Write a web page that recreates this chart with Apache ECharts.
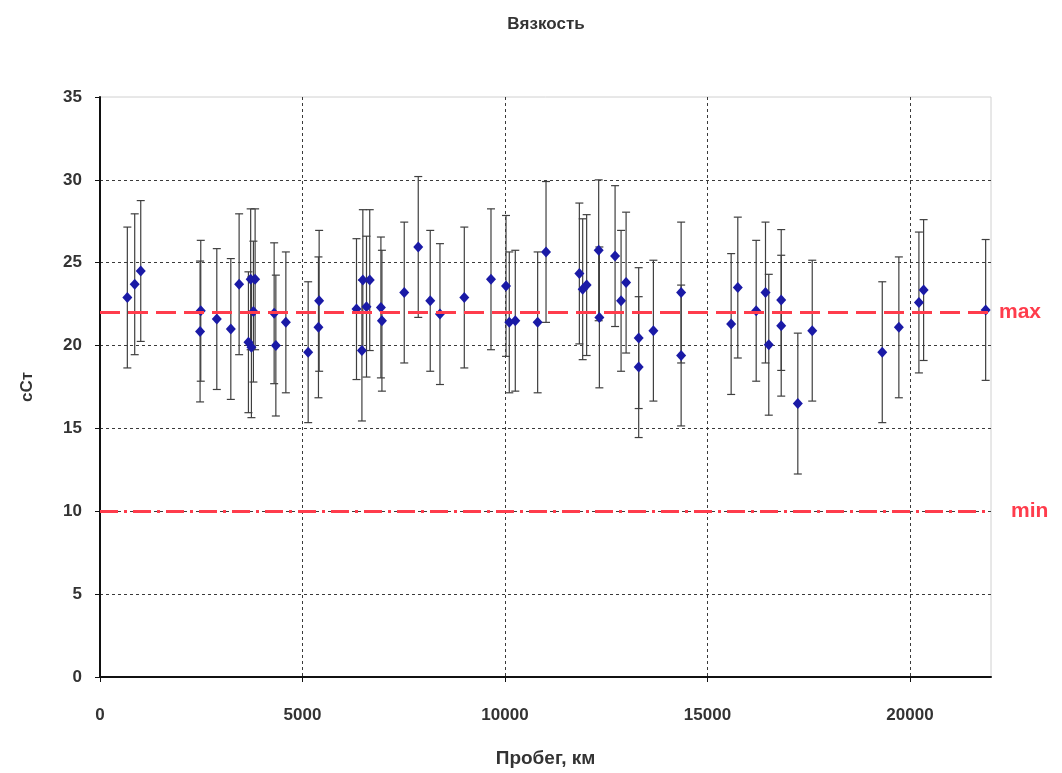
<!DOCTYPE html>
<html>
<head>
<meta charset="utf-8">
<script src="https://cdn.jsdelivr.net/npm/echarts@6/dist/echarts.min.js"></script>
<style>
html,body{margin:0;padding:0;background:#fff;}
#chart{width:1062px;height:773px;}
</style>
</head>
<body>
<div id="chart"></div>
<script>
// Пробег, км
var km = [675, 857, 1006, 2471, 2488, 2884, 3230, 3435, 3665, 3739, 3720, 3830, 3788, 4300, 4342, 4589,
  5140, 5411, 5394, 6333, 6467, 6490, 6660, 6580, 6936, 6961, 7512, 7858, 8154, 8394, 8995, 9654,
  10025, 10106, 10254, 10806, 11013, 11836, 11918, 12016, 12313, 12330, 12718, 12866, 12990, 13301,
  13301, 13664, 14349, 14349, 15584, 15748, 16202, 16432, 16513, 16820, 16820, 17230, 17586, 19315,
  19725, 20220, 20336, 21868];
// Вязкость, сСт
var visc = [22.9, 23.7, 24.5, 20.85, 22.1, 21.6, 21.0, 23.7, 20.2, 19.9, 24.0, 24.0, 22.05, 21.95, 20.0, 21.4,
  19.6, 22.7, 21.1, 22.2, 19.7, 23.95, 23.95, 22.35, 22.3, 21.5, 23.2, 25.95, 22.7, 21.9, 22.9, 24.0,
  23.6, 21.4, 21.5, 21.4, 25.65, 24.35, 23.4, 23.65, 25.75, 21.7, 25.4, 22.7, 23.8, 20.45,
  18.7, 20.9, 23.2, 19.4, 21.3, 23.5, 22.1, 23.2, 20.05, 22.75, 21.2, 16.5, 20.9, 19.6,
  21.1, 22.6, 23.35, 22.15];
// error bar half-width, сСт
var errHalf = 4.25;
// limits
var limitMax = 22;
var limitMin = 10;

var points = km.map(function (x, i) { return [x, visc[i]]; });
var bars = km.map(function (x, i) { return [x, visc[i] - errHalf, visc[i] + errHalf]; });

var RED = '#ff3c4c';
var GRID = '#3a3a3a';
var chart = echarts.init(document.getElementById('chart'), null, {renderer: 'canvas'});
var FONT = 'Liberation Sans, Arial, sans-serif';

chart.setOption({
  animation: false,
  backgroundColor: '#fff',
  title: {
    text: 'Вязкость', left: 541, top: 11, textAlign: 'center',
    textStyle: {fontFamily: FONT, fontSize: 17, fontWeight: 'bold', color: '#333'}
  },
  grid: {left: 100, right: 71, top: 97, bottom: 89, show: true, borderColor: '#d0d0d0', borderWidth: 1},
  xAxis: {
    type: 'value', min: 0, max: 22000, interval: 5000,
    name: 'Пробег, км', nameLocation: 'middle', nameGap: 72,
    nameTextStyle: {fontFamily: FONT, fontSize: 19, fontWeight: 'bold', color: '#333'},
    axisLine: {show: true, lineStyle: {color: '#111', width: 2}},
    axisTick: {show: true, length: 5, lineStyle: {color: '#111', width: 1}},
    axisLabel: {fontFamily: FONT, fontSize: 17, fontWeight: 'bold', color: '#333', margin: 30, showMaxLabel: false,
      formatter: function (v) { return String(v); }},
    splitLine: {show: true, lineStyle: {color: [GRID, GRID, GRID, GRID, GRID, 'rgba(0,0,0,0)'], width: 1, type: [3, 3]}}
  },
  yAxis: {
    type: 'value', min: 0, max: 35, interval: 5,
    name: 'сСт', nameLocation: 'middle', nameGap: 64, nameRotate: 90,
    nameTextStyle: {fontFamily: FONT, fontSize: 17, fontWeight: 'bold', color: '#333'},
    axisLine: {show: true, lineStyle: {color: '#111', width: 2}},
    axisTick: {show: true, length: 5, lineStyle: {color: '#111', width: 1}},
    axisLabel: {fontFamily: FONT, fontSize: 17, fontWeight: 'bold', color: '#333', margin: 18},
    splitLine: {show: true, lineStyle: {color: [GRID, GRID, GRID, GRID, GRID, GRID, GRID, 'rgba(0,0,0,0)'], width: 1, type: [3, 3]}}
  },
  series: [
    {
      type: 'custom',
      name: 'err',
      data: bars,
      z: 2,
      renderItem: function (params, api) {
        var x = api.value(0);
        var lo = api.coord([x, api.value(1)]);
        var hi = api.coord([x, api.value(2)]);
        var cw = 4;
        var style = {stroke: '#3f3f3f', lineWidth: 1.2};
        return {
          type: 'group',
          children: [
            {type: 'line', shape: {x1: lo[0], y1: lo[1], x2: hi[0], y2: hi[1]}, style: style},
            {type: 'line', shape: {x1: lo[0] - cw, y1: lo[1], x2: lo[0] + cw, y2: lo[1]}, style: style},
            {type: 'line', shape: {x1: hi[0] - cw, y1: hi[1], x2: hi[0] + cw, y2: hi[1]}, style: style}
          ]
        };
      }
    },
    {
      type: 'scatter',
      name: 'Вязкость',
      data: points,
      symbol: 'diamond',
      symbolSize: [10, 11],
      z: 4,
      itemStyle: {color: '#1a1aa6', opacity: 1},
      markLine: {
        silent: true,
        symbol: ['none', 'none'],
        animation: false,
        data: [
          {yAxis: limitMax, lineStyle: {color: RED, width: 3, type: [20, 8]},
           label: {show: true, position: 'end', formatter: 'max', distance: 8, color: RED, fontFamily: FONT, fontSize: 21, fontWeight: 'bold'}},
          {yAxis: limitMin, lineStyle: {color: RED, width: 3, type: [18, 6, 3, 6]},
           label: {show: true, position: 'end', formatter: 'min', distance: 20, color: RED, fontFamily: FONT, fontSize: 21, fontWeight: 'bold'}}
        ]
      }
    }
  ]
});
</script>
</body>
</html>
